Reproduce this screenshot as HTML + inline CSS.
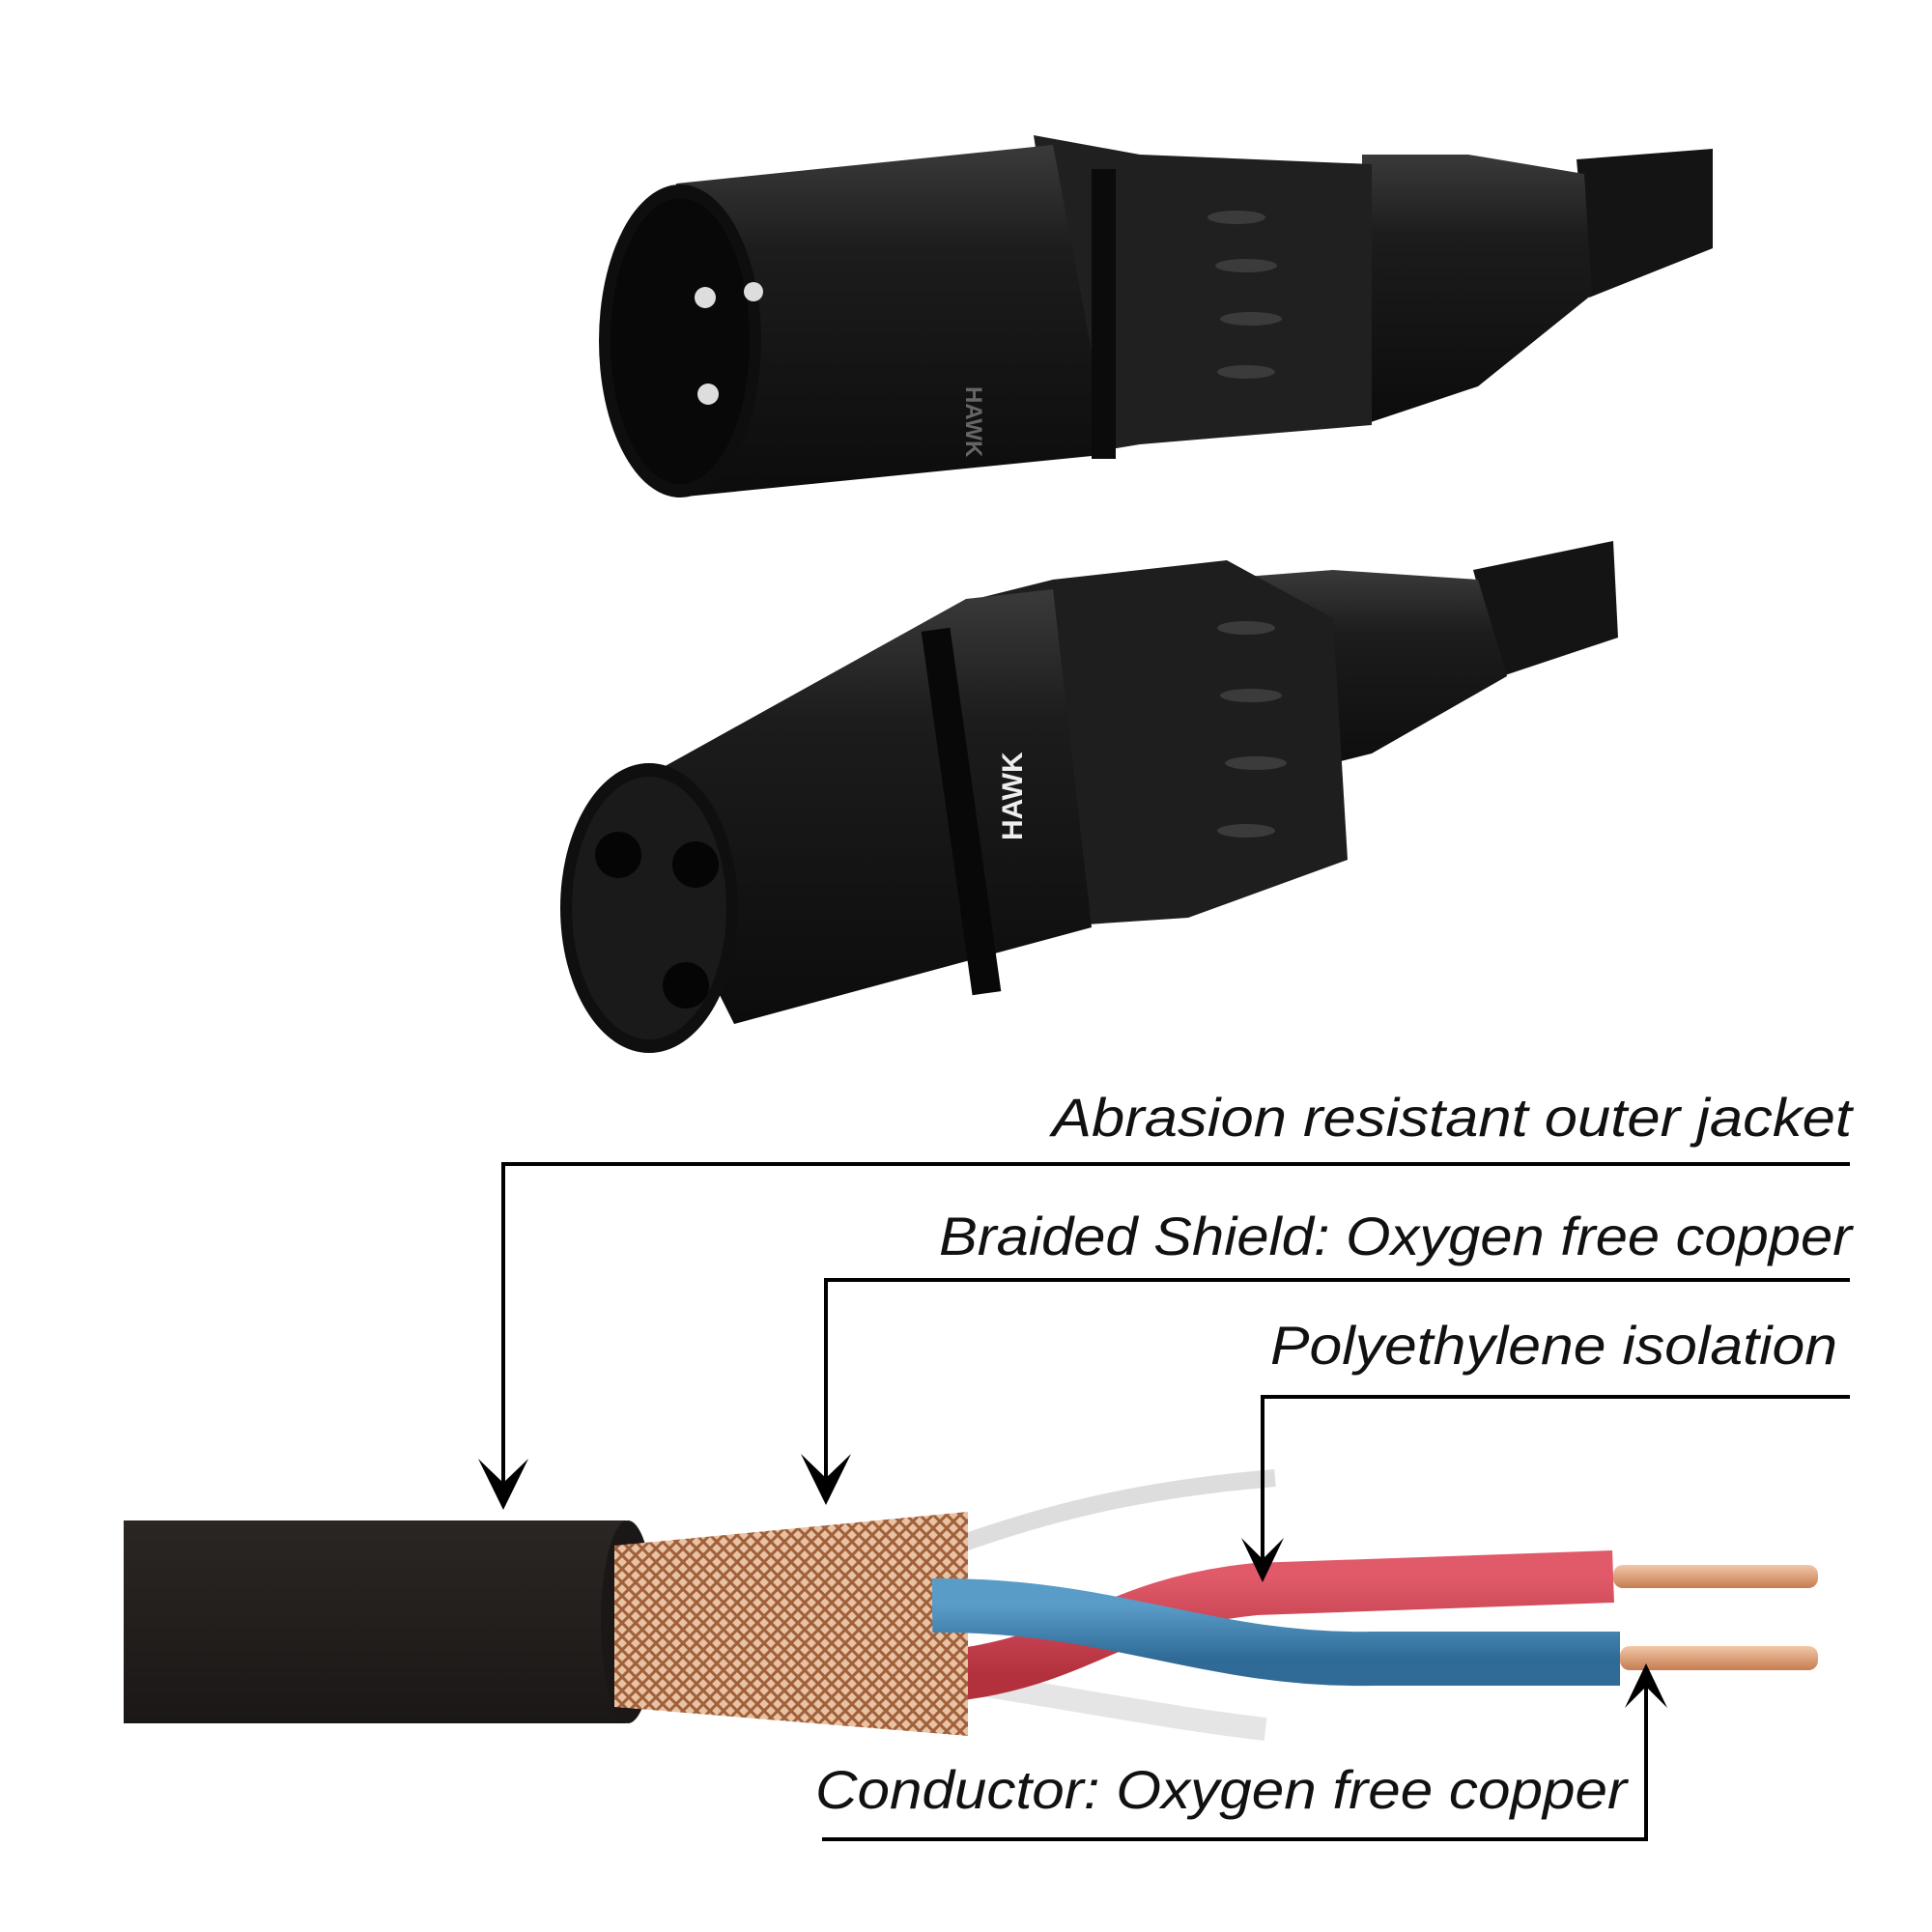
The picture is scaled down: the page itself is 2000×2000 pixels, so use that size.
<!DOCTYPE html>
<html><head><meta charset="utf-8"><style>
html,body{margin:0;padding:0;background:#fff;}
svg{display:block;}
text{font-family:"Liberation Sans",sans-serif;font-style:italic;fill:#111;}
</style></head><body>
<svg width="2000" height="2000" viewBox="0 0 2000 2000" xmlns="http://www.w3.org/2000/svg">
<defs>
<linearGradient id="blk" x1="0" y1="0" x2="0" y2="1">
<stop offset="0" stop-color="#3a3a3a"/><stop offset="0.3" stop-color="#1c1c1c"/><stop offset="1" stop-color="#0c0c0c"/></linearGradient>
<linearGradient id="jk" x1="0" y1="0" x2="0" y2="1">
<stop offset="0" stop-color="#2a2624"/><stop offset="0.5" stop-color="#231f1d"/><stop offset="1" stop-color="#1a1716"/></linearGradient>
<pattern id="mesh" width="14" height="14" patternUnits="userSpaceOnUse">
<rect width="14" height="14" fill="#e9c2a4"/>
<path d="M0 0L14 14M14 0L0 14" stroke="#a0603a" stroke-width="3"/></pattern>
<linearGradient id="red" x1="0" y1="0" x2="0" y2="1"><stop offset="0" stop-color="#e05a6a"/><stop offset="1" stop-color="#b3303d"/></linearGradient>
<linearGradient id="blue" x1="0" y1="0" x2="0" y2="1"><stop offset="0" stop-color="#5a9cc8"/><stop offset="1" stop-color="#2f6b96"/></linearGradient>
<linearGradient id="cu" x1="0" y1="0" x2="0" y2="1"><stop offset="0" stop-color="#f2c8a8"/><stop offset="1" stop-color="#c67c50"/></linearGradient>
</defs>

<!-- Male connector -->
<polygon points="1632,165 1773,154 1773,257 1645,308" fill="#141414"/>
<polygon points="1410,160 1520,160 1640,180 1648,305 1530,400 1410,440" fill="url(#blk)"/>
<polygon points="1070,140 1180,160 1420,170 1420,440 1180,460 1120,470" fill="#202020"/>
<g fill="#3b3b3b"><ellipse cx="1280" cy="225" rx="30" ry="7"/><ellipse cx="1290" cy="275" rx="32" ry="7"/><ellipse cx="1295" cy="330" rx="32" ry="7"/><ellipse cx="1290" cy="385" rx="30" ry="7"/></g>
<polygon points="700,190 1090,150 1150,470 700,515" fill="url(#blk)"/>
<rect x="1130" y="175" width="25" height="300" fill="#0b0b0b"/>
<ellipse cx="704" cy="353" rx="84" ry="162" fill="#0e0e0e"/>
<ellipse cx="704" cy="353" rx="72" ry="148" fill="#080808"/>
<circle cx="730" cy="308" r="11" fill="#ddd"/><circle cx="780" cy="302" r="10" fill="#ddd"/><circle cx="733" cy="408" r="11" fill="#ddd"/>
<text x="1000" y="400" transform="rotate(90 1000 400)" style="font-style:normal;font-weight:bold;font-size:24px;fill:#666">HAWK</text>

<!-- Female connector -->
<polygon points="1525,590 1670,560 1675,660 1555,700" fill="#141414"/>
<polygon points="1250,600 1380,590 1530,600 1560,700 1420,780 1300,810" fill="url(#blk)"/>
<polygon points="1010,620 1090,600 1270,580 1380,640 1395,890 1230,950 1080,960" fill="#1e1e1e"/>
<g fill="#3b3b3b"><ellipse cx="1290" cy="650" rx="30" ry="7"/><ellipse cx="1295" cy="720" rx="32" ry="7"/><ellipse cx="1300" cy="790" rx="32" ry="7"/><ellipse cx="1290" cy="860" rx="30" ry="7"/></g>
<polygon points="640,820 1000,620 1090,610 1130,960 760,1060" fill="url(#blk)"/>
<rect x="980" y="650" width="30" height="380" fill="#080808" transform="rotate(-8 995 840)"/>
<ellipse cx="672" cy="940" rx="92" ry="150" fill="#0f0f0f"/>
<ellipse cx="672" cy="940" rx="80" ry="136" fill="#1a1a1a"/>
<circle cx="640" cy="885" r="24" fill="#050505"/><circle cx="720" cy="895" r="24" fill="#050505"/><circle cx="710" cy="1020" r="24" fill="#050505"/>
<text x="1058" y="870" transform="rotate(-90 1058 870)" style="font-style:normal;font-weight:bold;font-size:30px;fill:#eee">HAWK</text>

<!-- Cable -->
<rect x="128" y="1574" width="520" height="210" fill="url(#jk)"/>
<ellipse cx="650" cy="1679" rx="28" ry="105" fill="#1a1716"/>
<path d="M990 1600 C1100 1560 1200 1540 1320 1530" stroke="#bbb" stroke-width="18" fill="none" opacity="0.5"/>
<path d="M990 1740 C1120 1760 1220 1780 1310 1790" stroke="#ccc" stroke-width="24" fill="none" opacity="0.5"/>
<path d="M980 1735 C1120 1720 1150 1660 1300 1645 L1670 1632" stroke="url(#red)" stroke-width="54" fill="none"/>
<polygon points="636,1600 1002,1565 1002,1797 636,1767" fill="url(#mesh)"/>
<path d="M965 1662 C1150 1660 1250 1720 1420 1717 L1677 1717" stroke="url(#blue)" stroke-width="56" fill="none"/>
<rect x="1670" y="1620" width="212" height="24" rx="10" fill="url(#cu)"/>
<rect x="1677" y="1704" width="205" height="25" rx="10" fill="url(#cu)"/>

<!-- Labels -->
<text x="1917" y="1176" text-anchor="end" font-size="56" textLength="828" lengthAdjust="spacingAndGlyphs">Abrasion resistant outer jacket</text>
<text x="1917" y="1299" text-anchor="end" font-size="56" textLength="945" lengthAdjust="spacingAndGlyphs">Braided Shield: Oxygen free copper</text>
<text x="1902" y="1412" text-anchor="end" font-size="56" textLength="587" lengthAdjust="spacingAndGlyphs">Polyethylene isolation</text>
<text x="844" y="1872" font-size="56" textLength="840" lengthAdjust="spacingAndGlyphs">Conductor: Oxygen free copper</text>

<g stroke="#000" stroke-width="4" fill="none">
<polyline points="1915,1205 521,1205 521,1555"/>
<polyline points="1915,1325 855,1325 855,1550"/>
<polyline points="1915,1446 1307,1446 1307,1632"/>
<polyline points="851,1904 1704,1904 1704,1728"/>
</g>
<g fill="#000">
<path d="M521,1563 L495,1510 L521,1535 L547,1510 Z"/>
<path d="M855,1558 L829,1505 L855,1530 L881,1505 Z"/>
<path d="M1307,1638 L1285,1592 L1307,1614 L1329,1592 Z"/>
<path d="M1704,1722 L1682,1768 L1704,1746 L1726,1768 Z"/>
</g>
</svg>
</body></html>
